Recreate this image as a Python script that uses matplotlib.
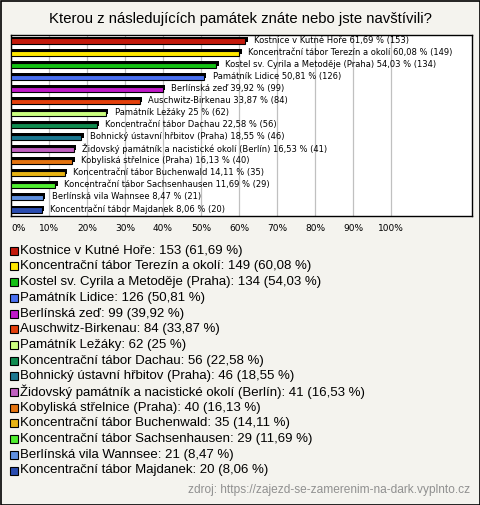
import matplotlib.pyplot as plt
from matplotlib.patches import Rectangle

# Data
names = [
    "Kostnice v Kutné Hoře",
    "Koncentrační tábor Terezín a okolí",
    "Kostel sv. Cyrila a Metoděje (Praha)",
    "Památník Lidice",
    "Berlínská zeď",
    "Auschwitz-Birkenau",
    "Památník Ležáky",
    "Koncentrační tábor Dachau",
    "Bohnický ústavní hřbitov (Praha)",
    "Židovský památník a nacistické okolí (Berlín)",
    "Kobyliská střelnice (Praha)",
    "Koncentrační tábor Buchenwald",
    "Koncentrační tábor Sachsenhausen",
    "Berlínská vila Wannsee",
    "Koncentrační tábor Majdanek",
]
counts = [153, 149, 134, 126, 99, 84, 62, 56, 46, 41, 40, 35, 29, 21, 20]
percents = [61.69, 60.08, 54.03, 50.81, 39.92, 33.87, 25, 22.58, 18.55, 16.53,
            16.13, 14.11, 11.69, 8.47, 8.06]
colors = ["#c41a0c", "#ffe800", "#14c014", "#4a70f0", "#c018c8", "#e4400c",
          "#ccff80", "#108c50", "#1c7890", "#c060c0", "#e47410", "#e8b414",
          "#50ee30", "#6090e0", "#2a4cb0"]
ticks = list(range(0, 101, 10))

def fmt(p):
    s = ("%.2f" % p).rstrip("0").rstrip(".")
    return s.replace(".", ",")

bg = "#f4f3ee"
fig = plt.figure(figsize=(4.8, 5.05), dpi=100, facecolor=bg)
W, H = 480, 505

fig.text(0.5, 1 - 19 / H, "Kterou z následujících památek znáte nebo jste navštívili?",
         ha="center", va="center", fontsize=10.7, family="Liberation Sans")

ax = fig.add_axes([11 / W, 1 - 216 / H, (472 - 11) / W, (216 - 35) / H])
ax.set_facecolor("white")
ax.set_xlim(0, (472 - 11) / 3.8)
ax.set_ylim(14.5, -0.5)

ypos = list(range(len(names)))
h = 0.42
# shadow (3D look)
ax.barh([y - 0.16 for y in ypos], [p + 0.6 for p in percents], height=h,
        color="black", zorder=2)
ax.barh(ypos, percents, height=h, color=colors, edgecolor="black",
        linewidth=0.8, zorder=3)
for y, n, p, c in zip(ypos, names, percents, counts):
    ax.annotate("%s %s %% (%d)" % (n, fmt(p), c), (p + 0.6, y - 0.08),
                xytext=(4.5, 0), textcoords="offset points", va="center",
                ha="left", fontsize=6, family="DejaVu Sans", zorder=4)

ax.set_xticks(ticks)
labels = ax.set_xticklabels(["%d%%" % t for t in ticks], fontsize=6.5,
                            family="DejaVu Sans")
labels[0].set_horizontalalignment("left")
ax.tick_params(axis="x", length=0, pad=6)
ax.set_yticks([])
ax.grid(axis="x", color="#c0c0c0", linewidth=0.9, zorder=0)
for s in ax.spines.values():
    s.set_linewidth(1)

# legend rows
for i, (n, p, c, col) in enumerate(zip(names, percents, counts, colors)):
    yc = 250.7 + i * 15.7
    fig.patches.append(Rectangle((9.5 / W, 1 - (yc + 4) / H), 8 / W, 8 / H,
                                 transform=fig.transFigure, facecolor=col,
                                 edgecolor="black", linewidth=0.8))
    fig.text(20 / W, 1 - yc / H, "%s: %d (%s %%)" % (n, c, fmt(p)),
             ha="left", va="center", fontsize=9.5, family="Liberation Sans")

fig.text(470 / W, 1 - 490 / H, "zdroj: https://zajezd-se-zamerenim-na-dark.vyplnto.cz",
         ha="right", va="center", fontsize=8.6, color="#909090",
         family="Liberation Sans")

fig.patches.append(Rectangle((0.5 / W, 0.5 / H), 1 - 1 / W, 1 - 1 / H,
                             transform=fig.transFigure, fill=False,
                             edgecolor="black", linewidth=1.2))

fig.savefig("out.png", dpi=100, facecolor=bg)
